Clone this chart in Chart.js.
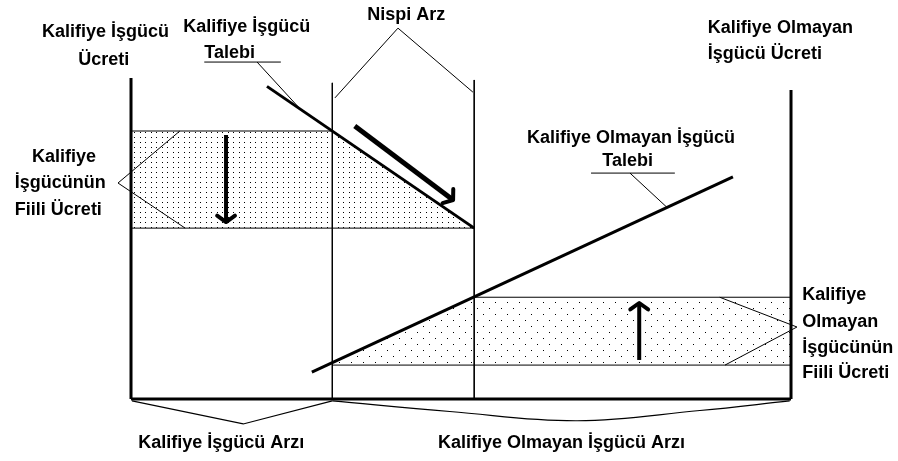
<!DOCTYPE html>
<html>
<head>
<meta charset="utf-8">
<script src="https://cdn.jsdelivr.net/npm/chart.js@4.4.0/dist/chart.umd.min.js"></script>
<style>
  body { margin: 0; background: #fff; }
</style>
</head>
<body>
<canvas id="myChart" width="898" height="461"></canvas>
<script>
// diagram values: x = quantity of labour (0..100), y = wage (0..100)
const leftAxis = [{x:0,y:100.3},{x:0,y:0}];
const baseAxis = [{x:0,y:0},{x:100,y:0}];
const rightAxis = [{x:100,y:96.6},{x:100,y:0}];

const skilledSupply = [{x:30.5,y:98.8},{x:30.5,y:0}];
const relativeSupply = [{x:52,y:99.7},{x:52,y:0}];

const skilledDemand = [{x:20.6,y:97.7},{x:52,y:53.4}];
const unskilledDemand = [{x:27.4,y:8.4},{x:91.2,y:69.4}];

const skilledWageHigh = [{x:0,y:83.75},{x:30.5,y:83.75}];
const skilledWageLow = [{x:0,y:53.4},{x:52,y:53.4}];
const unskilledWageHigh = [{x:52,y:31.8},{x:100,y:31.8}];
const unskilledWageLow = [{x:30.5,y:10.6},{x:100,y:10.6}];

const skilledArea = [{x:0,y:83.75},{x:30.5,y:83.75},{x:52,y:53.4}];
const skilledAreaBase = 53.4;
const unskilledArea = [{x:30.5,y:11.3},{x:52,y:31.8},{x:100,y:31.8}];
const unskilledAreaBase = 10.6;

const arrowDown = [{x:14.4,y:82.5},{x:14.4,y:55.3}];
const arrowDiag = [{x:33.9,y:85.3},{x:48.8,y:62.2}];
const arrowUp = [{x:77,y:12.2},{x:77,y:30}];

const nispiLeader = [{x:30.9,y:94.1},{x:40.45,y:115.9},{x:51.8,y:95.9}];
const skilledTalebiUnder = [{x:11.1,y:105.3},{x:22.7,y:105.3}];
const skilledTalebiLeader = [{x:19.1,y:105.3},{x:25.6,y:90.7}];
const unskilledTalebiUnder = [{x:69.7,y:70.6},{x:82.4,y:70.6}];
const unskilledTalebiLeader = [{x:75.6,y:70.6},{x:81.2,y:59.9}];
const leftWageLeader = [{x:7.4,y:83.75},{x:-1.97,y:67.5},{x:8.2,y:53.4}];
const rightWageLeader = [{x:89.2,y:31.8},{x:100.9,y:22.5},{x:90,y:10.6}];
const skilledBracket = [{x:0.15,y:-0.6},{x:17,y:-7.8},{x:30.5,y:-0.6}];
const unskilledBracket = [{x:30.5,y:-0.6},{x:48.3,y:-3.9},{x:67.6,y:-6.8},{x:86.2,y:-3.6},{x:99.8,y:-0.6}];

// text labels
const labelTexts = [
  'Kalifiye İşgücü', 'Ücreti',
  'Kalifiye İşgücü', 'Talebi',
  'Nispi Arz',
  'Kalifiye Olmayan', 'İşgücü Ücreti',
  'Kalifiye Olmayan İşgücü', 'Talebi',
  'Kalifiye', 'İşgücünün', 'Fiili Ücreti',
  'Kalifiye', 'Olmayan', 'İşgücünün', 'Fiili Ücreti',
  'Kalifiye İşgücü Arzı', 'Kalifiye Olmayan İşgücü Arzı'
];
const labelX = [-13.5, -8.0, 7.9, 11.1, 35.8, 87.4, 87.4, 60.0, 71.4,
  -15.0, -17.6, -17.6, 101.7, 101.7, 101.7, 101.7, 1.1, 46.5];
const labelY = [113.1, 104.4, 114.7, 106.6, 118.4, 114.4, 106.25, 80.0, 72.8,
  74.1, 65.9, 57.5, 30.9, 22.5, 14.4, 6.6, -15.3, -15.3];

function dotPattern(w, h, dots) {
  const c = document.createElement('canvas');
  c.width = w; c.height = h;
  const g = c.getContext('2d');
  g.fillStyle = '#000';
  dots.forEach(d => g.fillRect(d[0], d[1], 1, 1));
  return g.createPattern(c, 'repeat');
}

function seg(data, width, extra) {
  return Object.assign({
    data: data, showLine: true, borderColor: '#000', borderWidth: width,
    pointRadius: 0, fill: false, tension: 0
  }, extra || {});
}

const datasets = [
  seg(skilledArea, 0, {fill: {value: skilledAreaBase}, backgroundColor: dotPattern(11, 5, [[2,2],[8,2]]), order: 10}),
  seg(unskilledArea, 0, {fill: {value: unskilledAreaBase}, backgroundColor: dotPattern(12, 12, [[3,2],[9,8]]), order: 10}),
  seg(leftAxis, 3), seg(baseAxis, 3), seg(rightAxis, 3),
  seg(skilledSupply, 1), seg(relativeSupply, 1),
  seg(skilledWageHigh, 1), seg(skilledWageLow, 1),
  seg(unskilledWageHigh, 1), seg(unskilledWageLow, 1),
  seg(skilledDemand, 3), seg(unskilledDemand, 3),
  seg(nispiLeader, 1), seg(skilledTalebiUnder, 1), seg(skilledTalebiLeader, 1),
  seg(unskilledTalebiUnder, 1), seg(unskilledTalebiLeader, 1),
  seg(leftWageLeader, 1), seg(rightWageLeader, 1),
  seg(skilledBracket, 1.2), seg(unskilledBracket, 1.2, {tension: 0.4}),
  seg(arrowDown, 4, {arrowHead: true}), seg(arrowDiag, 5, {arrowHead: true}), seg(arrowUp, 4, {arrowHead: true})
];

// arrow heads on the last point of arrow datasets
const arrowHeads = {
  id: 'arrowHeads',
  afterDatasetsDraw(chart) {
    const ctx = chart.ctx;
    ctx.save();
    chart.data.datasets.forEach((ds, i) => {
      if (!ds.arrowHead) return;
      const pts = chart.getDatasetMeta(i).data;
      const a = pts[pts.length - 2], b = pts[pts.length - 1];
      const ang = Math.atan2(b.y - a.y, b.x - a.x);
      const len = 11, spread = Math.PI * 0.3;
      ctx.strokeStyle = '#000';
      ctx.lineWidth = 4;
      ctx.lineCap = 'round';
      ctx.lineJoin = 'round';
      ctx.beginPath();
      ctx.moveTo(b.x - len * Math.cos(ang - spread), b.y - len * Math.sin(ang - spread));
      ctx.lineTo(b.x, b.y);
      ctx.lineTo(b.x - len * Math.cos(ang + spread), b.y - len * Math.sin(ang + spread));
      ctx.stroke();
    });
    ctx.restore();
  }
};

const textLabels = {
  id: 'textLabels',
  afterDatasetsDraw(chart) {
    const {ctx, scales: {x, y}} = chart;
    ctx.save();
    ctx.font = 'bold 18px "Liberation Sans", Arial, sans-serif';
    ctx.fillStyle = '#000';
    ctx.textAlign = 'left';
    ctx.textBaseline = 'alphabetic';
    labelTexts.forEach((t, i) => {
      ctx.fillText(t, x.getPixelForValue(labelX[i]), y.getPixelForValue(labelY[i]));
    });
    ctx.restore();
  }
};

const config = {
  type: 'scatter',
  data: { datasets: datasets },
  options: {
    responsive: false,
    animation: false,
    layout: { padding: 0 },
    plugins: { legend: { display: false }, tooltip: { enabled: false } },
    scales: {
      x: { type: 'linear', min: -19.85, max: 116.21, display: false },
      y: { type: 'linear', min: -19.375, max: 124.69, display: false }
    }
  },
  plugins: [arrowHeads, textLabels]
};

const myChart = new Chart(document.getElementById('myChart'), config);
</script>
</body>
</html>
